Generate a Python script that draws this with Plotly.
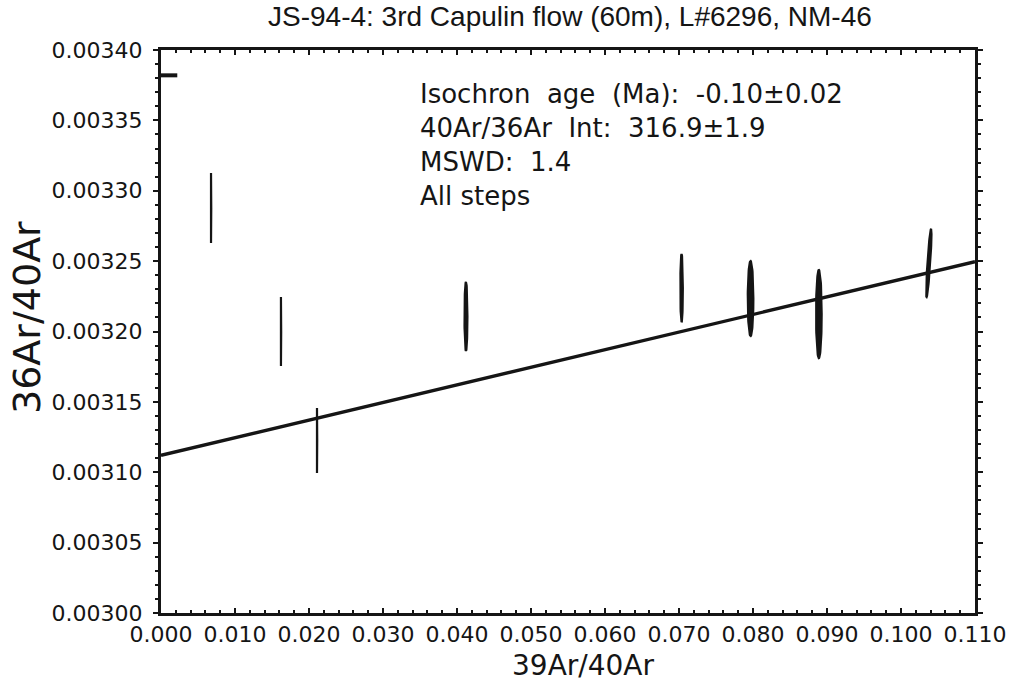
import numpy as np
import plotly.graph_objects as go

# Step data: 39Ar/40Ar vs 36Ar/40Ar with error-ellipse semi-axes and correlation
x_ratio = [0.00676, 0.01621, 0.02108, 0.04121, 0.07035, 0.07967, 0.08890, 0.10376]
y_ratio = [0.0032877, 0.0032000, 0.0031225, 0.0032107, 0.0032309, 0.0032234, 0.0032124, 0.0032487]
x_err = [0.00003, 0.00003, 0.00003, 0.00020, 0.00017, 0.00038, 0.00038, 0.00036]
y_err = [0.0000249, 0.0000245, 0.0000231, 0.0000245, 0.0000242, 0.0000266, 0.0000313, 0.0000242]
rho = [0.0, 0.0, 0.0, 0.0, 0.0, 0.0, 0.0, 0.85]

# Atmospheric 36Ar/40Ar marker on the y axis
atm_ratio = 0.003382
atm_x = [0.0, 0.0022]

# Isochron fit line
iso_intercept = 0.003112
iso_slope = 0.001251
iso_x = [0.0, 0.110]

# Axis ticks
x_ticks = [round(0.01 * i, 3) for i in range(12)]
y_ticks = [round(0.0030 + 0.00005 * i, 5) for i in range(9)]

info_lines = [
    "Isochron\u00a0\u00a0age\u00a0\u00a0(Ma):\u00a0\u00a0-0.10±0.02",
    "40Ar/36Ar\u00a0\u00a0Int:\u00a0\u00a0316.9±1.9",
    "MSWD:\u00a0\u00a01.4",
    "All steps",
]

INK = "#151515"
FONT = "DejaVu Sans"

fig = go.Figure()

# error ellipses
t = np.linspace(0, 2 * np.pi, 80)
for cx, cy, sx, sy, r in zip(x_ratio, y_ratio, x_err, y_err, rho):
    ex = cx + sx * np.cos(t)
    ey = cy + sy * (r * np.cos(t) + np.sqrt(1 - r * r) * np.sin(t))
    fig.add_trace(go.Scatter(
        x=ex, y=ey, mode="lines", fill="toself",
        fillcolor=INK, line=dict(color=INK, width=2.2),
        hoverinfo="skip", showlegend=False,
    ))

# isochron
fig.add_trace(go.Scatter(
    x=iso_x, y=[iso_intercept + iso_slope * v for v in iso_x],
    mode="lines", line=dict(color=INK, width=3.4), showlegend=False,
))

# atmospheric ratio dash
fig.add_trace(go.Scatter(
    x=atm_x, y=[atm_ratio, atm_ratio], mode="lines",
    line=dict(color=INK, width=4), showlegend=False,
))

W, H = 1021, 681
ML, MR, MT, MB = 161, 46, 50, 68
PW, PH = W - ML - MR, H - MT - MB


def px(xp):
    return (xp - ML) / PW


def py(yp):
    return 1 - (yp - MT) / PH


axis_common = dict(
    showgrid=False, zeroline=False, showline=True, linecolor=INK, linewidth=3,
    mirror="ticks", tickcolor=INK, tickwidth=2, ticklen=5,
    tickfont=dict(family=FONT, size=22, color=INK),
)

fig.update_layout(
    width=W, height=H, autosize=False,
    margin=dict(l=ML, r=MR, t=MT, b=MB),
    paper_bgcolor="white", plot_bgcolor="white",
    xaxis=dict(
        range=[0, 0.110], tickvals=x_ticks, tickformat=".3f", ticks="inside",
        minor=dict(dtick=0.002, ticks="inside", ticklen=3, tickwidth=1.5, tickcolor=INK),
        **axis_common,
    ),
    yaxis=dict(
        range=[0.0030, 0.0034], tickvals=y_ticks, tickformat=".5f", ticks="outside",
        ticklabelstandoff=6,
        minor=dict(dtick=0.00001, ticks="outside", ticklen=3, tickwidth=1.5, tickcolor=INK),
        **axis_common,
    ),
)

ann = []
ann.append(dict(
    text="JS-94-4: 3rd Capulin flow (60m), L#6296, NM-46",
    x=px(570), y=py(16), xref="paper", yref="paper",
    xanchor="center", yanchor="middle", showarrow=False,
    font=dict(family="Liberation Sans", size=28, color=INK),
))
ann.append(dict(
    text="39Ar/40Ar", x=px(583), y=py(665), xref="paper", yref="paper",
    xanchor="center", yanchor="middle", showarrow=False,
    font=dict(family=FONT, size=28, color=INK),
))
ann.append(dict(
    text="36Ar/40Ar", x=px(27), y=py(318), xref="paper", yref="paper",
    xanchor="center", yanchor="middle", showarrow=False, textangle=-90,
    font=dict(family=FONT, size=38, color=INK),
))
for i, line in enumerate(info_lines):
    ann.append(dict(
        text=line, x=px(418), y=py(94 + 34 * i), xref="paper", yref="paper",
        xanchor="left", yanchor="middle", showarrow=False,
        font=dict(family=FONT, size=26, color=INK),
    ))
fig.update_layout(annotations=ann)

fig.write_html("out.html")
